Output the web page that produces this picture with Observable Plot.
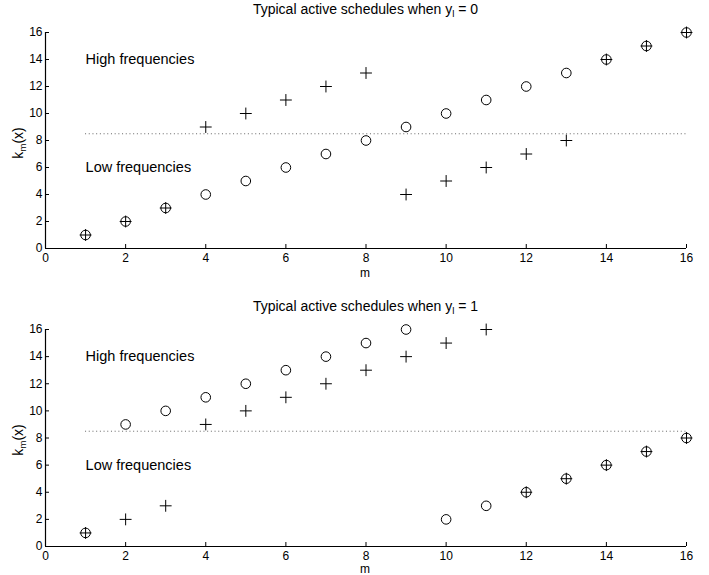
<!DOCTYPE html>
<html>
<head>
<meta charset="utf-8">
<script src="https://cdn.jsdelivr.net/npm/d3@7"></script>
<script src="https://cdn.jsdelivr.net/npm/@observablehq/plot@0.6"></script>
<style>
  body { margin: 0; background: white; }
  #wrap { position: relative; width: 709px; height: 575px; font-family: "Liberation Sans", Arial, Helvetica, sans-serif; color: black; }
  .abs { position: absolute; white-space: nowrap; }
  .title { font-size: 14px; width: 709px; left: 0; text-align: center; padding-left: 22px; box-sizing: border-box; }
  .xlab { font-size: 12px; transform: translate(-50%, 0); }
  .ylab { font-size: 14px; transform: translate(-50%, -50%) rotate(-90deg); }
  sub { font-size: 70%; vertical-align: -0.35em; line-height: 0; }
</style>
</head>
<body>
<div id="wrap"></div>
<script>
// ---- data ----
const mValues = [1, 2, 3, 4, 5, 6, 7, 8, 9, 10, 11, 12, 13, 14, 15, 16];
const topCircle = [1, 2, 3, 4, 5, 6, 7, 8, 9, 10, 11, 12, 13, 14, 15, 16];
const topPlus   = [1, 2, 3, 9, 10, 11, 12, 13, 4, 5, 6, 7, 8, 14, 15, 16];
const botCircle = [1, 9, 10, 11, 12, 13, 14, 15, 16, 2, 3, 4, 5, 6, 7, 8];
const botPlus   = [1, 2, 3, 9, 10, 11, 12, 13, 14, 15, 16, 4, 5, 6, 7, 8];
const xTicks = [0, 2, 4, 6, 8, 10, 12, 14, 16];
const yTicks = [0, 2, 4, 6, 8, 10, 12, 14, 16];
const threshold = [8.5];
const regionText = ["High frequencies", "Low frequencies"];
const regionK = [14, 6];
const regionM = [1, 1];
const titles = ["0", "1"];

const wrap = document.getElementById("wrap");

function panel(circles, pluses, height, marginBottom) {
  const circ = mValues.map((m, i) => ({m, k: circles[i]}));
  const plus = mValues.map((m, i) => ({m, k: pluses[i]}));
  const lab = regionText.map((t, i) => ({t, m: regionM[i], k: regionK[i]}));
  return Plot.plot({
    width: 709,
    height,
    marginLeft: 45,
    marginRight: 23,
    marginTop: 12,
    marginBottom,
    style: {fontFamily: "'Liberation Sans', Arial, Helvetica, sans-serif", fontSize: "12px", color: "black", background: "white"},
    x: {domain: [0, 16], ticks: xTicks, label: null},
    y: {domain: [0, 16], ticks: yTicks, label: null},
    marks: [
      Plot.ruleY(threshold, {x1: mValues[0], x2: mValues[mValues.length - 1], stroke: "#666", strokeDasharray: "1,2.7", strokeWidth: 1}),
      Plot.axisX({ticks: xTicks, tickSize: -4, tickPadding: 9, tickFormat: d => d, label: null}),
      Plot.axisY({ticks: yTicks, tickSize: -4, tickPadding: 7, tickFormat: d => d, label: null}),
      Plot.ruleY([0], {stroke: "black", strokeWidth: 1.2}),
      Plot.ruleX([0], {stroke: "black", strokeWidth: 1.2}),
      Plot.dot(circ, {x: "m", y: "k", r: 4.8, symbol: "circle", stroke: "black", fill: "none", strokeWidth: 1}),
      Plot.dot(plus, {x: "m", y: "k", r: 3.9, symbol: "plus", stroke: "black", fill: "none", strokeWidth: 1}),
      Plot.text(lab, {x: "m", y: "k", text: "t", textAnchor: "start", fontSize: 14.5})
    ]
  });
}

function place(el, top) {
  el.style.position = "absolute";
  el.style.left = "0px";
  el.style.top = top + "px";
  wrap.appendChild(el);
}

function addHTML(cls, html, left, top) {
  const d = document.createElement("div");
  d.className = "abs " + cls;
  d.innerHTML = html;
  if (left !== null) d.style.left = left + "px";
  d.style.top = top + "px";
  wrap.appendChild(d);
}

place(panel(topCircle, topPlus, 262, 34), 20);
place(panel(botCircle, botPlus, 258, 29), 317);

addHTML("title", "Typical active schedules when y<sub>l</sub> = " + titles[0], null, 1);
addHTML("title", "Typical active schedules when y<sub>l</sub> = " + titles[1], null, 298);
addHTML("xlab", "m", 365, 266);
addHTML("xlab", "m", 365, 562);
addHTML("ylab", "k<sub>m</sub>(x)", 18, 143);
addHTML("ylab", "k<sub>m</sub>(x)", 18, 440);
</script>
</body>
</html>
